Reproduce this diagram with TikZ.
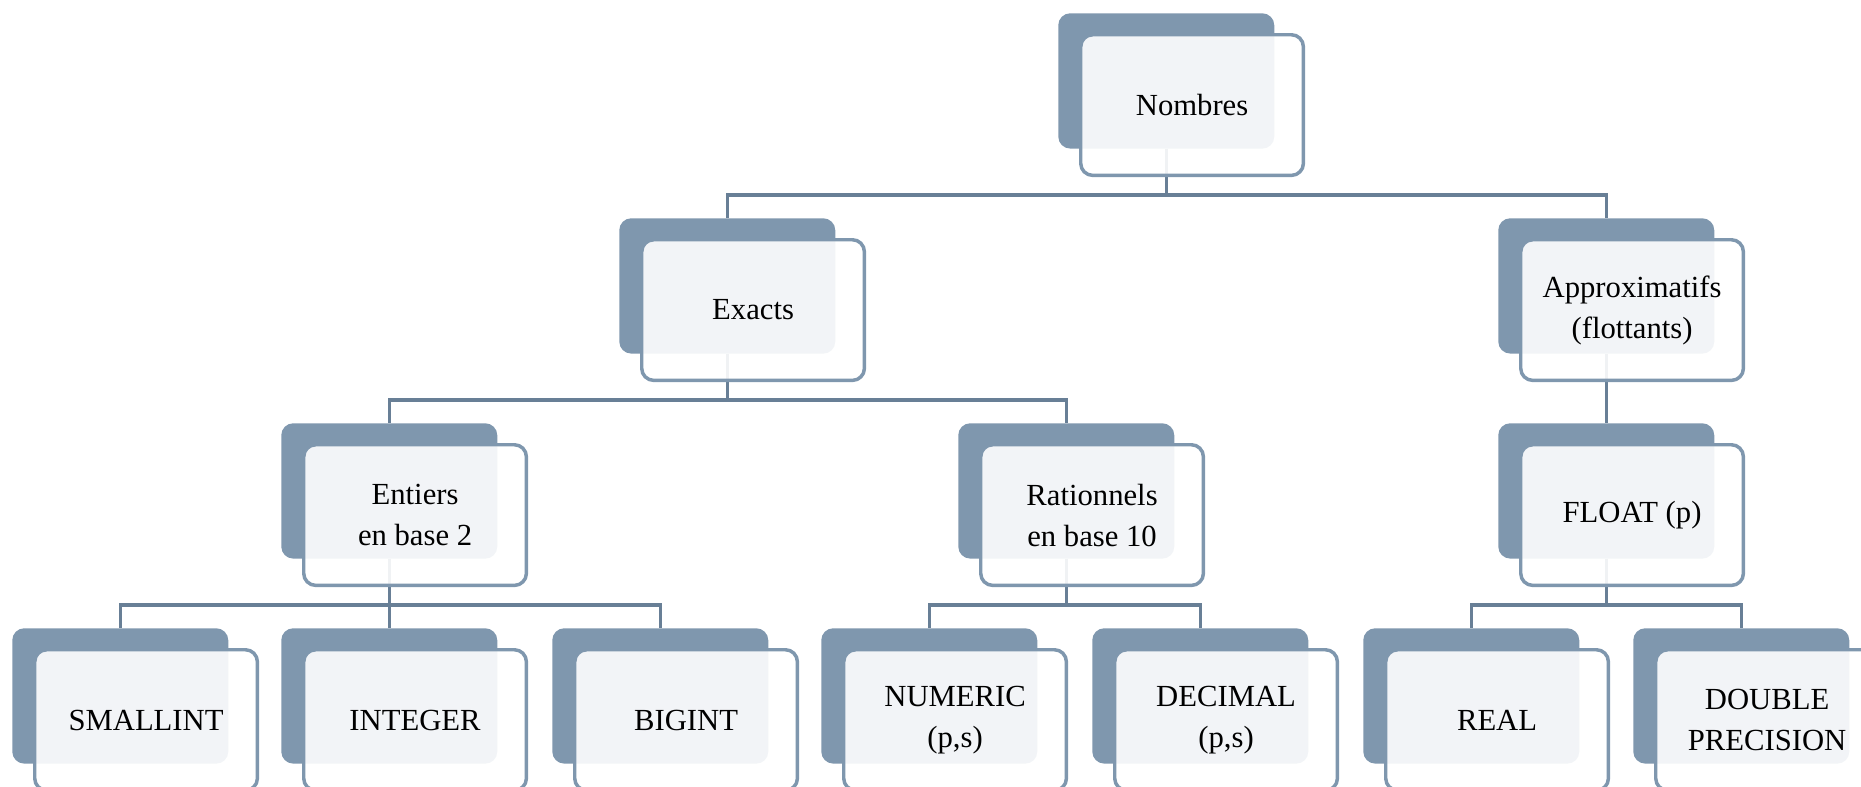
\documentclass[tikz,border=0pt]{standalone}
\usepackage{fontspec}
\setmainfont{Liberation Serif}
\usetikzlibrary{backgrounds}
\definecolor{darkbox}{HTML}{7F97AE}
\definecolor{connc}{HTML}{687F96}
\tikzset{
  darkb/.style={draw=none, fill=darkbox, rounded corners=9pt, minimum width=162pt, minimum height=101.5pt, anchor=north west, inner sep=0pt},
  frontb/.style={draw=darkbox, line width=2.6pt, fill=white, fill opacity=0.9, text opacity=1, rounded corners=9pt, minimum width=167pt, minimum height=105.5pt, anchor=north west, inner sep=0pt, align=center, font=\fontsize{23}{30.75}\selectfont},
  conn/.style={draw=connc, line width=2.5pt}
}
\newcommand{\mkbox}[4]{%
  \node[darkb] (#1-d) at (#2,#3) {};
  \node[frontb] (#1) at (#2+21,#3+20) {#4};
}
\begin{document}
\begin{tikzpicture}[x=0.75pt,y=-0.75pt]
\useasboundingbox (0,0) rectangle (1861,786);
\clip (0,0) rectangle (1861,786);
% bar levels
\coordinate (b1) at (0,195);
\coordinate (b2) at (0,400);
\coordinate (b3) at (0,605);
% boxes
\mkbox{nom}{1058}{13}{Nombres}
\mkbox{ex}{619}{218}{Exacts}
\mkbox{ap}{1498}{218}{Approximatifs\\(flottants)}
\mkbox{en}{281}{423}{Entiers\\en base 2}
\mkbox{ra}{958}{423}{Rationnels\\en base 10}
\mkbox{fl}{1498}{423}{FLOAT (p)}
\mkbox{sm}{12}{628}{SMALLINT}
\mkbox{in}{281}{628}{INTEGER}
\mkbox{bi}{552}{628}{BIGINT}
\mkbox{nu}{821}{628}{NUMERIC\\(p,s)}
\mkbox{de}{1092}{628}{DECIMAL\\(p,s)}
\mkbox{re}{1363}{628}{REAL}
\mkbox{db}{1633}{628}{DOUBLE\\PRECISION}
% connectors behind the boxes
\begin{pgfonlayer}{background}
\foreach \p/\c/\b in {nom/ex/b1, nom/ap/b1, ex/en/b2, ex/ra/b2, ap/fl/b2, en/sm/b3, en/in/b3, en/bi/b3, ra/nu/b3, ra/de/b3, fl/re/b3, fl/db/b3}{
  \draw[conn] (\p-d.south) -- (\p-d.south |- \b) -| (\c-d.north);
}
\end{pgfonlayer}
\end{tikzpicture}
\end{document}
